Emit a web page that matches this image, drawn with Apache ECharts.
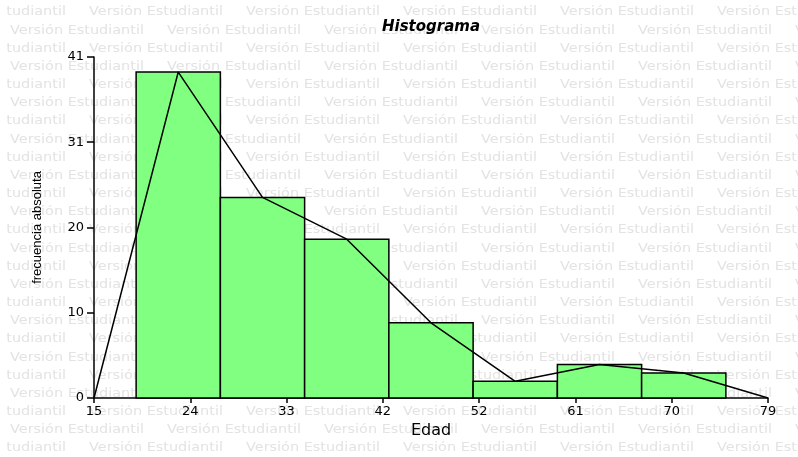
<!DOCTYPE html>
<html><head><meta charset="utf-8">
<script src="https://cdn.jsdelivr.net/npm/echarts@6/dist/echarts.min.js"></script>
<style>html,body{margin:0;padding:0;background:#fff}#c{width:798px;height:457px}</style>
</head><body><div id="c"></div>
<script>
// ---- data ----
const binEdges = [19, 27, 35, 43, 51, 59, 67, 75];
const frequencies = [39, 24, 19, 9, 2, 4, 3];
const polygonX = [15, 23, 31, 39, 47, 55, 63, 71, 79];
const polygonY = [0, 39, 24, 19, 9, 2, 4, 3, 0];
const xTickLabels = [15, 24, 33, 42, 52, 61, 70, 79];
const yTickLabels = [0, 10, 20, 31, 41];
const chartTitle = 'Histograma';
const xName = 'Edad';
const yName = 'frecuencia absoluta';
const watermarkText = 'Versión Estudiantil';

// ---- axis extents ----
const xMin = 15, xMax = 79;
const yMax = 40.8;
const xStep = (xMax - xMin) / (xTickLabels.length - 1);
const xTickPos = xTickLabels.map((_, i) => xMin + i * xStep);
const yStep = yMax / (yTickLabels.length - 1);

// ---- watermark ----
const wm = [];
for (let r = 0; r < 25; r++) {
  const y = 12 + r * 18.17;
  const off = r % 2 === 0 ? -68 : 10;
  for (let x = off; x < 798; x += 157) {
    wm.push({
      type: 'text', x: x, y: y, scaleX: 1.11, silent: true, z: 0,
      style: { text: watermarkText, fill: '#e3e3e3', font: '13px "DejaVu Sans"', verticalAlign: 'middle' }
    });
  }
}
// left margin where the watermark is cut off
wm.push({ type: 'rect', silent: true, z: 1, shape: { x: 0, y: 0, width: 7, height: 457 }, style: { fill: '#ffffff' } });

const chart = echarts.init(document.getElementById('c'), null, { renderer: 'canvas' });
chart.setOption({
  animation: false,
  backgroundColor: '#ffffff',
  graphic: { elements: wm },
  title: {
    text: chartTitle, left: 431, top: 20, padding: 0, textAlign: 'center',
    textStyle: { fontFamily: 'DejaVu Sans', fontSize: 15, fontWeight: 'bold', fontStyle: 'italic', color: '#000' }
  },
  grid: { left: 94, right: 30, top: 57, bottom: 59, containLabel: false, outerBoundsMode: 'none' },
  xAxis: {
    type: 'value', min: xMin, max: xMax,
    name: xName, nameLocation: 'middle', nameGap: 24,
    nameTextStyle: { fontFamily: 'DejaVu Sans', fontSize: 16, color: '#000' },
    axisLine: { show: true, lineStyle: { color: '#000', width: 1.5 } },
    axisTick: { show: true, length: 5, customValues: xTickPos, lineStyle: { color: '#000', width: 1.5 } },
    axisLabel: {
      customValues: xTickPos, margin: 7,
      fontFamily: 'DejaVu Sans', fontSize: 13, color: '#000',
      formatter: v => String(xTickLabels[Math.round((v - xMin) / xStep)])
    },
    splitLine: { show: false }
  },
  yAxis: {
    type: 'value', min: 0, max: yMax, interval: yStep,
    name: yName, nameLocation: 'middle', nameGap: 50, nameRotate: 90,
    nameTextStyle: { fontFamily: 'Liberation Sans', fontSize: 13, color: '#000' },
    axisLine: { show: true, lineStyle: { color: '#000', width: 1.5 } },
    axisTick: { show: true, length: 7, lineStyle: { color: '#000', width: 1.5 } },
    axisLabel: {
      margin: 10, fontFamily: 'DejaVu Sans', fontSize: 13, color: '#000',
      formatter: v => String(yTickLabels[Math.round(v / yStep)])
    },
    splitLine: { show: false }
  },
  series: [
    {
      type: 'custom', z: 2,
      data: frequencies.map((f, i) => [binEdges[i], binEdges[i + 1], f]),
      encode: { x: [0, 1], y: 2 },
      renderItem: function (params, api) {
        const p0 = api.coord([api.value(0), api.value(2)]);
        const p1 = api.coord([api.value(1), 0]);
        return {
          type: 'rect',
          shape: { x: p0[0], y: p0[1], width: p1[0] - p0[0], height: p1[1] - p0[1] },
          style: { fill: '#80ff80', stroke: '#000', lineWidth: 1.5 }
        };
      }
    },
    {
      type: 'line', z: 3, symbol: 'none', silent: true,
      data: polygonX.map((x, i) => [x, polygonY[i]]),
      lineStyle: { color: '#000', width: 1.5 }
    }
  ]
});
</script>
</body></html>
